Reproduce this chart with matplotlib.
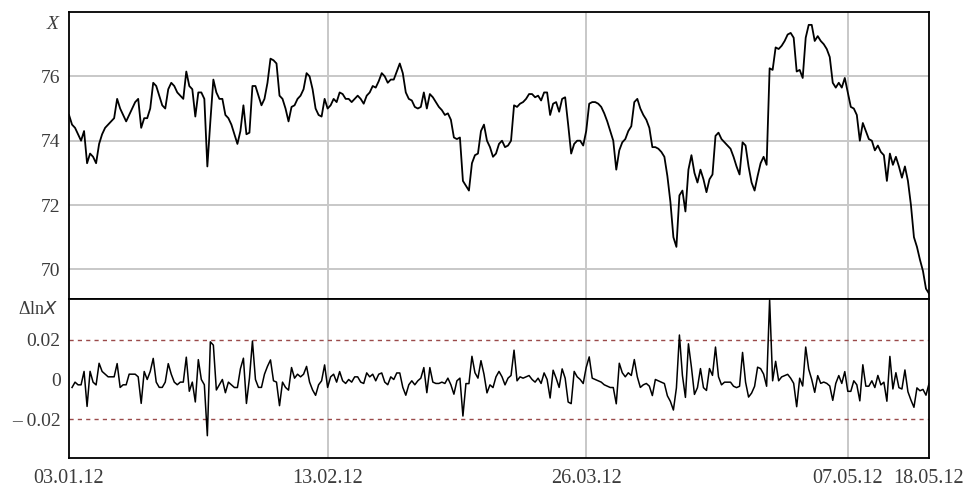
import numpy as np
import matplotlib.pyplot as plt

# price series X (one value every ~3 px)
X = [
    # 03.01 .. early Feb
    74.8, 74.5, 74.4, 74.2, 74.0, 74.3, 73.3, 73.6, 73.5, 73.3,
    73.9, 74.2, 74.4, 74.5, 74.6, 74.7, 75.3, 75.0, 74.8, 74.6,
    74.8, 75.0, 75.2, 75.3, 74.4, 74.7, 74.7, 75.0, 75.8, 75.7,
    75.4, 75.1, 75.0, 75.6, 75.8, 75.7, 75.5, 75.4, 75.3, 76.15,
    75.7, 75.6, 74.75, 75.5, 75.5, 75.3, 73.2, 74.6, 75.9,
    # .. 13.02
    75.5, 75.3, 75.3, 74.8, 74.7, 74.5, 74.2, 73.9, 74.3, 75.1,
    74.2, 74.25, 75.7, 75.7, 75.4, 75.1, 75.3, 75.8, 76.55, 76.5,
    76.4, 75.4, 75.3, 75.0, 74.6, 75.05, 75.1, 75.3, 75.4, 75.6,
    76.1, 76.0, 75.6, 75.0, 74.8, 74.75, 75.3, 75.0, 75.1, 75.3,
    75.2, 75.5, 75.45, 75.3, 75.3, 75.2, 75.3, 75.4,
    # .. early March
    75.3, 75.15, 75.4, 75.5, 75.7, 75.65, 75.85, 76.1, 76.0, 75.8,
    75.9, 75.9, 76.15, 76.4, 76.1, 75.5, 75.3, 75.25, 75.05, 75.0,
    75.05, 75.5, 75.0, 75.45, 75.35, 75.2, 75.05, 74.95, 74.8, 74.85,
    74.65, 74.1, 74.05, 74.1, 72.75, 72.6, 72.45, 73.3, 73.55, 73.6,
    74.3, 74.5, 74.0, 73.8, 73.5, 73.6, 73.9, 74.0, 73.8,
    # .. 26.03 .. mid April
    73.85, 74.0, 75.1, 75.05, 75.15, 75.2, 75.3, 75.45, 75.45, 75.35,
    75.4, 75.25, 75.5, 75.5, 74.8, 75.15, 75.2, 74.9, 75.3, 75.35,
    74.5, 73.6, 73.9, 74.0, 74.0, 73.85, 74.3, 75.15, 75.2, 75.2,
    75.15, 75.05, 74.85, 74.6, 74.3, 74.0, 73.1, 73.7, 73.95, 74.05,
    74.3, 74.45, 75.2, 75.3, 75.0, 74.8, 74.65, 74.4,
    # .. early May
    73.8, 73.8, 73.75, 73.65, 73.5, 72.9, 72.1, 71.0, 70.7, 72.3,
    72.45, 71.8, 73.1, 73.55, 73.0, 72.7, 73.1, 72.8, 72.4, 72.8,
    72.95, 74.15, 74.25, 74.05, 73.95, 73.85, 73.75, 73.5, 73.2, 72.95,
    73.95, 73.85, 73.2, 72.7, 72.45, 72.9, 73.3, 73.5, 73.25, 76.25,
    76.2, 76.9, 76.85, 76.95, 77.1, 77.3, 77.35, 77.2,
    # .. 07.05 .. 18.05
    76.15, 76.2, 75.95, 77.2, 77.6, 77.6, 77.1, 77.25, 77.1, 77.0,
    76.85, 76.6, 75.8, 75.65, 75.8, 75.65, 75.95, 75.5, 75.05, 75.0,
    74.8, 74.0, 74.55, 74.3, 74.05, 74.0, 73.7, 73.85, 73.65, 73.55,
    72.75, 73.6, 73.25, 73.5, 73.2, 72.85, 73.2, 72.75, 72.0, 71.0,
    70.7, 70.3, 69.95, 69.4, 69.25,
]

date_labels = ["03.01.12", "13.02.12", "26.03.12", "07.05.12", "18.05.12"]
date_pos = [0, 86, 172, 259, 286]   # observation number of each label

top_ticks = [70, 72, 74, 76]
bot_ticks = [0.02, 0, -0.02]
bot_tick_labels = ["0.02", "0", "\u2013 0.02"]

X = np.array(X)
t = np.arange(len(X))
dlnX = np.diff(np.log(X))

plt.rcParams["font.family"] = ["Liberation Serif", "DejaVu Serif"]
grid_c = "#c8c8c8"
txt_c = "#3c3c3c"

fig = plt.figure(figsize=(9.75, 4.88), dpi=100)
ax1 = fig.add_axes([0.0708, 0.3873, 0.8820, 0.5881])
ax2 = fig.add_axes([0.0708, 0.0615, 0.8820, 0.3258])

# top panel
for v in top_ticks:
    ax1.axhline(v, color=grid_c, lw=1.4, zorder=0)
for p in date_pos[1:-1]:
    ax1.axvline(p, color=grid_c, lw=1.4, zorder=0)
ax1.plot(t, X, color="black", lw=1.3)
ax1.set_xlim(0, len(X) - 1)
ax1.set_ylim(69.08, 78.0)
ax1.set_yticks(top_ticks)
ax1.set_yticklabels([str(v) for v in top_ticks])
ax1.set_xticks([])
ax1.text(-0.012, 0.985, "X", transform=ax1.transAxes, ha="right", va="top",
         fontsize=14, style="italic", color=txt_c)

# bottom panel
for p in date_pos[1:-1]:
    ax2.axvline(p, color=grid_c, lw=1.4, zorder=0)
for v in (0.02, -0.02):
    ax2.axhline(v, color="#9a4a4a", lw=1.0, ls=(0, (3, 3)), zorder=1)
ax2.plot(t[1:], dlnX, color="black", lw=1.1)
ax2.set_xlim(0, len(X) - 1)
ax2.set_ylim(-0.0395, 0.0405)
ax2.set_yticks(bot_ticks)
ax2.set_yticklabels(bot_tick_labels)
ax2.set_xticks(date_pos)
ax2.set_xticklabels(date_labels)
ax2.text(-0.012, 0.985, "\u0394ln$\\it{X}$", transform=ax2.transAxes, ha="right",
         va="top", fontsize=13, color=txt_c)

for ax in (ax1, ax2):
    ax.tick_params(length=0, labelsize=14, colors=txt_c, pad=6)
    for s in ax.spines.values():
        s.set_color("black")
        s.set_linewidth(1.3)
ax2.tick_params(axis="x", labelsize=14.5, pad=8)

fig.savefig("out.png", dpi=100)
